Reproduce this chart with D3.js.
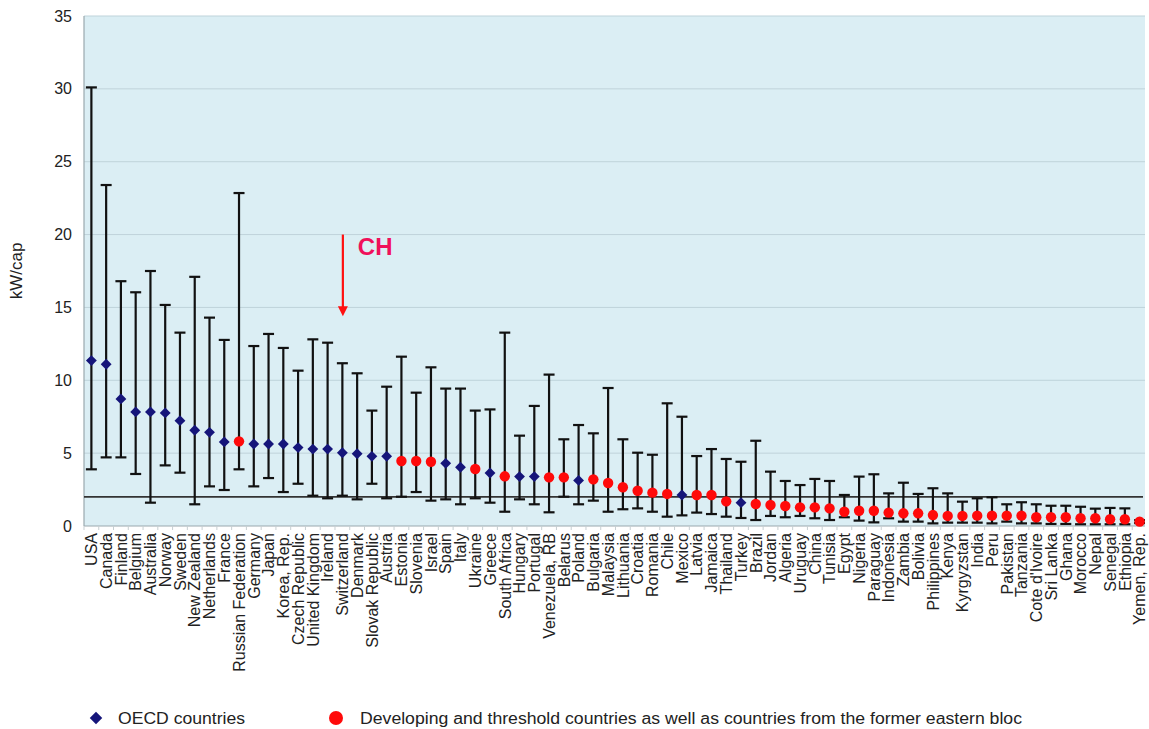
<!DOCTYPE html>
<html>
<head>
<meta charset="utf-8">
<script src="https://cdn.jsdelivr.net/npm/d3@7"></script>
<style>
  html, body { margin: 0; padding: 0; background: #ffffff; }
  svg { display: block; font-family: "Liberation Sans", Arial, sans-serif; }
</style>
</head>
<body>
<svg id="chart" width="1149" height="729"></svg>
<script>
const countries = ["USA","Canada","Finland","Belgium","Australia","Norway","Sweden","New Zealand","Netherlands","France",
  "Russian Federation","Germany","Japan","Korea, Rep.","Czech Republic","United Kingdom","Ireland","Switzerland","Denmark","Slovak Republic",
  "Austria","Estonia","Slovenia","Israel","Spain","Italy","Ukraine","Greece","South Africa","Hungary",
  "Portugal","Venezuela, RB","Belarus","Poland","Bulgaria","Malaysia","Lithuania","Croatia","Romania","Chile",
  "Mexico","Latvia","Jamaica","Thailand","Turkey","Brazil","Jordan","Algeria","Uruguay","China",
  "Tunisia","Egypt","Nigeria","Paraguay","Indonesia","Zambia","Bolivia","Philippines","Kenya","Kyrgyzstan",
  "India","Peru","Pakistan","Tanzania","Cote d'Ivoire","Sri Lanka","Ghana","Morocco","Nepal","Senegal",
  "Ethiopia","Yemen, Rep."];
// 1 = OECD, 0 = developing / threshold / former eastern bloc
const oecd = [1,1,1,1,1,1,1,1,1,1,
  0,1,1,1,1,1,1,1,1,1,
  1,0,0,0,1,1,0,1,0,1,
  1,0,0,1,0,0,0,0,0,0,
  1,0,0,0,1,0,0,0,0,0,
  0,0,0,0,0,0,0,0,0,0,
  0,0,0,0,0,0,0,0,0,0,
  0,0];
const meanValues = [11.35,11.1,8.72,7.83,7.83,7.76,7.23,6.57,6.43,5.77,
  5.81,5.63,5.63,5.63,5.38,5.28,5.28,5.03,4.96,4.78,
  4.78,4.46,4.46,4.41,4.3,4.03,3.91,3.64,3.41,3.39,
  3.39,3.34,3.34,3.13,3.2,2.95,2.66,2.42,2.29,2.2,
  2.13,2.13,2.13,1.69,1.6,1.51,1.44,1.37,1.28,1.28,
  1.21,0.98,1.05,1.05,0.92,0.87,0.87,0.75,0.69,0.69,
  0.71,0.71,0.71,0.71,0.6,0.6,0.6,0.53,0.53,0.46,
  0.46,0.3];
const lowValues = [3.89,4.71,4.71,3.57,1.6,4.16,3.66,1.49,2.72,2.47,
  3.89,2.72,3.29,2.33,2.9,2.08,1.9,2.08,1.83,2.9,
  1.9,2.01,2.33,1.74,1.83,1.49,1.9,1.6,0.98,1.83,
  1.49,0.94,2.01,1.49,1.74,0.98,1.15,1.21,0.98,0.64,
  0.73,0.92,0.82,0.64,0.55,0.41,0.69,0.6,0.69,0.53,
  0.41,0.6,0.37,0.25,0.53,0.3,0.3,0.18,0.23,0.23,
  0.23,0.18,0.3,0.18,0.18,0.14,0.14,0.12,0.12,0.12,
  0.12,0.2];
const highValues = [30.1,23.4,16.8,16.04,17.5,15.17,13.27,17.1,14.3,12.77,
  22.85,12.35,13.18,12.22,10.66,12.81,12.58,11.17,10.48,7.92,
  9.56,11.62,9.15,10.89,9.43,9.43,7.92,8.0,13.27,6.2,
  8.24,10.39,5.95,6.93,6.36,9.47,5.95,5.03,4.89,8.42,
  7.5,4.8,5.28,4.6,4.41,5.85,3.73,3.09,2.81,3.23,
  3.09,2.13,3.39,3.55,2.24,2.97,2.2,2.59,2.24,1.67,
  1.9,1.97,1.49,1.63,1.49,1.39,1.39,1.32,1.19,1.24,
  1.21,0.4];
const yTicks = [0,5,10,15,20,25,30,35];
const referenceLevel = 2;
const yLabel = "kW/cap";
const legendLabels = ["OECD countries", "Developing and threshold countries as well as countries from the former eastern bloc"];
const annotation = {label: "CH", country: "Switzerland", from: 20, to: 14.4};

const data = countries.map((c, i) => ({country: c, oecd: oecd[i], mean: meanValues[i], low: lowValues[i], high: highValues[i]}));

const svg = d3.select("#chart");
const plot = {left: 84, right: 1145, top: 16, bottom: 526};

const x = d3.scaleBand().domain(countries).range([plot.left, 1147]).padding(0);
const y = d3.scaleLinear().domain([0, 35]).range([plot.bottom, plot.top]);
const cx = d => x(d) + x.bandwidth() / 2;

svg.append("defs").append("clipPath").attr("id", "plotClip")
  .append("rect").attr("x", plot.left).attr("y", plot.top - 5)
  .attr("width", plot.right - plot.left).attr("height", plot.bottom - plot.top + 10);

// background
svg.append("rect").attr("x", plot.left).attr("y", plot.top)
  .attr("width", plot.right - plot.left).attr("height", plot.bottom - plot.top)
  .attr("fill", "#dbeef4");

// gridlines
svg.append("g").selectAll("line").data(yTicks.filter(t => t > 0)).join("line")
  .attr("x1", plot.left).attr("x2", plot.right)
  .attr("y1", d => y(d)).attr("y2", d => y(d))
  .attr("stroke", "#bfd3da").attr("stroke-width", 1);

// axes lines
svg.append("line").attr("x1", plot.left).attr("x2", plot.left).attr("y1", plot.top).attr("y2", plot.bottom)
  .attr("stroke", "#9aa8ad").attr("stroke-width", 1.2);
svg.append("line").attr("x1", plot.left).attr("x2", plot.right).attr("y1", plot.bottom).attr("y2", plot.bottom)
  .attr("stroke", "#9aa8ad").attr("stroke-width", 1.2);

// y axis labels
const yAxis = d3.axisLeft(y).tickValues(yTicks).tickSize(0).tickPadding(12).tickFormat(d3.format("d"));
const gy = svg.append("g").attr("transform", `translate(${plot.left},0)`).call(yAxis);
gy.select(".domain").remove();
gy.selectAll("text").attr("font-size", 16).attr("fill", "#222").attr("font-family", "Liberation Sans, Arial, sans-serif");

// x axis minor ticks and labels
const xAxis = d3.axisBottom(x).tickSize(0).tickPadding(0);
const gx = svg.append("g").attr("transform", `translate(0,${plot.bottom})`).call(xAxis);
gx.select(".domain").remove();
gx.selectAll(".tick text")
  .attr("font-size", 16).attr("fill", "#222").attr("font-family", "Liberation Sans, Arial, sans-serif")
  .attr("text-anchor", "end").attr("transform", "translate(0,7) rotate(-90)")
  .attr("x", 0).attr("y", 0).attr("dy", "0.36em");
svg.append("g").selectAll("line").data(countries).join("line")
  .attr("x1", d => x(d)).attr("x2", d => x(d))
  .attr("y1", plot.bottom).attr("y2", plot.bottom + 4)
  .attr("stroke", "#c7cfd2").attr("stroke-width", 1);

// y label
svg.append("text").attr("transform", "translate(22,271) rotate(-90)")
  .attr("text-anchor", "middle").attr("font-size", 17).attr("fill", "#222").text(yLabel);

// reference line
svg.append("line").attr("x1", plot.left).attr("x2", 1143)
  .attr("y1", y(referenceLevel)).attr("y2", y(referenceLevel))
  .attr("stroke", "#333").attr("stroke-width", 1.6);

const g = svg.append("g").attr("clip-path", "url(#plotClip)");

// whiskers
const capW = 5.5;
const wk = g.append("g").attr("stroke", "#111").attr("stroke-width", 2.2);
data.forEach(d => {
  wk.append("line").attr("x1", cx(d.country)).attr("x2", cx(d.country)).attr("y1", y(d.low)).attr("y2", y(d.high));
  wk.append("line").attr("x1", cx(d.country) - capW).attr("x2", cx(d.country) + capW).attr("y1", y(d.high)).attr("y2", y(d.high));
  wk.append("line").attr("x1", cx(d.country) - capW).attr("x2", cx(d.country) + capW).attr("y1", y(d.low)).attr("y2", y(d.low));
});

// markers
const diamond = d3.symbol().type(d3.symbolDiamond2).size(75);
g.append("g").selectAll("path").data(data.filter(d => d.oecd === 1)).join("path")
  .attr("d", diamond).attr("transform", d => `translate(${cx(d.country)},${y(d.mean)})`)
  .attr("fill", "#15157a");
g.append("g").selectAll("circle").data(data.filter(d => d.oecd === 0)).join("circle")
  .attr("cx", d => cx(d.country)).attr("cy", d => y(d.mean)).attr("r", 5.2)
  .attr("fill", "#ff0a0a");

// CH annotation
const ax = cx(annotation.country) + 0.5;
svg.append("line").attr("x1", ax).attr("x2", ax)
  .attr("y1", y(annotation.from)).attr("y2", y(annotation.to) - 8)
  .attr("stroke", "#ff1010").attr("stroke-width", 2.2);
svg.append("path")
  .attr("d", `M${ax - 5},${y(annotation.to) - 10} L${ax + 5},${y(annotation.to) - 10} L${ax},${y(annotation.to)} Z`)
  .attr("fill", "#ff1010");
svg.append("text").attr("x", ax + 15).attr("y", y(annotation.from) + 20)
  .attr("font-size", 24).attr("font-weight", "bold").attr("fill", "#f0105a").text(annotation.label);

// legend
const ly = 718;
svg.append("path").attr("d", d3.symbol().type(d3.symbolDiamond2).size(100)())
  .attr("transform", `translate(96,${ly})`).attr("fill", "#15157a");
svg.append("text").attr("x", 118).attr("y", ly).attr("dy", "0.36em")
  .attr("font-size", 16).attr("fill", "#222")
  .attr("textLength", 127).attr("lengthAdjust", "spacingAndGlyphs").text(legendLabels[0]);
svg.append("circle").attr("cx", 336).attr("cy", ly).attr("r", 7).attr("fill", "#ff0a0a");
svg.append("text").attr("x", 360).attr("y", ly).attr("dy", "0.36em")
  .attr("font-size", 16).attr("fill", "#222")
  .attr("textLength", 662).attr("lengthAdjust", "spacingAndGlyphs").text(legendLabels[1]);
</script>
</body>
</html>
